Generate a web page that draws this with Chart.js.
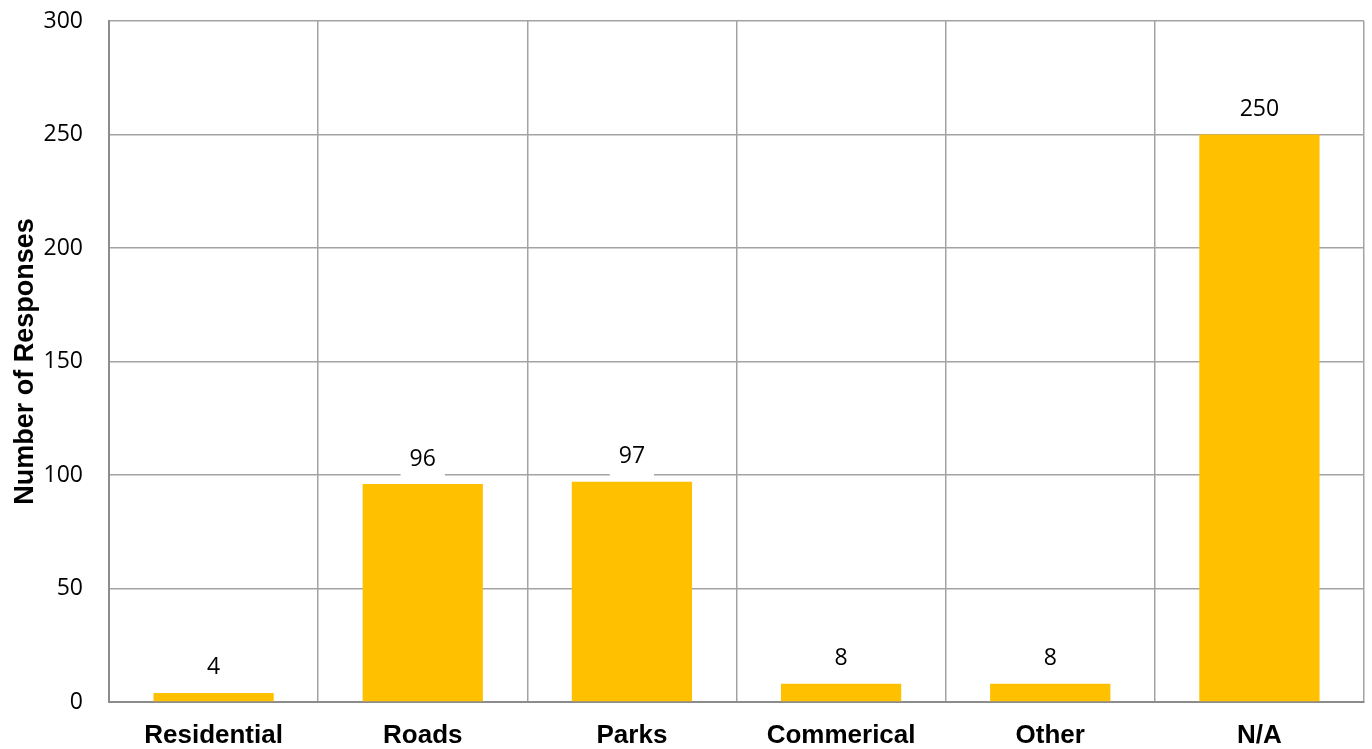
<!DOCTYPE html>
<html>
<head>
<meta charset="utf-8">
<script src="https://cdn.jsdelivr.net/npm/chart.js@4.4.1/dist/chart.umd.min.js"></script>
<style>
  html, body { margin: 0; padding: 0; background: #ffffff; }
  #wrap { width: 1372px; height: 749px; position: relative; }
</style>
</head>
<body>
<div id="wrap"><canvas id="c" width="1372" height="749"></canvas></div>
<script>
// Survey responses by land-use category
const categories = ['Residential', 'Roads', 'Parks', 'Commerical', 'Other', 'N/A'];
const responses = [4, 96, 97, 8, 8, 250];
const yTicks = [0, 50, 100, 150, 200, 250, 300];

const BAR_COLOR = '#FFC000';
const GRID_COLOR = '#a3a3a3';
const AXIS_COLOR = '#8c8c8c';
const LABEL_FONT = '23px "Open Sans", "Liberation Sans", sans-serif';

// Value labels above bars, each on a small white box
const valueLabels = {
  id: 'valueLabels',
  afterDatasetsDraw(chart) {
    const ctx = chart.ctx;
    const meta = chart.getDatasetMeta(0);
    ctx.save();
    ctx.font = LABEL_FONT;
    ctx.textAlign = 'center';
    ctx.textBaseline = 'middle';
    meta.data.forEach((bar, i) => {
      const text = String(chart.data.datasets[0].data[i]);
      const cx = bar.x;
      const cy = bar.y - 26;
      const w = ctx.measureText(text).width + 18;
      ctx.fillStyle = '#ffffff';
      ctx.fillRect(cx - w / 2, cy - 15, w, 37);
      ctx.fillStyle = '#000000';
      ctx.fillText(text, cx, cy + 1);
    });
    ctx.restore();
  }
};

new Chart(document.getElementById('c'), {
  type: 'bar',
  data: {
    labels: categories,
    datasets: [{
      data: responses,
      backgroundColor: BAR_COLOR,
      borderWidth: 0,
      barPercentage: 0.575,
      categoryPercentage: 1.0
    }]
  },
  options: {
    responsive: false,
    animation: false,
    devicePixelRatio: 1,
    layout: { padding: { top: 21, right: 8, bottom: 0, left: 0 } },
    plugins: {
      legend: { display: false },
      tooltip: { enabled: false }
    },
    scales: {
      x: {
        offset: true,
        grid: { display: true, offset: true, color: GRID_COLOR, lineWidth: 1.5, drawTicks: false },
        border: { display: true, color: AXIS_COLOR, width: 2 },
        ticks: {
          color: '#000000',
          padding: 18,
          maxRotation: 0,
          autoSkip: false,
          font: { family: '"Liberation Sans", Arial, sans-serif', size: 26, weight: 'bold' }
        },
        afterFit(scale) {
          scale.height = 47;
          scale.paddingLeft = 0;
          scale.paddingRight = 0;
        }
      },
      y: {
        min: 0,
        max: 300,
        afterBuildTicks(scale) { scale.ticks = yTicks.map(v => ({ value: v })); },
        grid: { color: GRID_COLOR, lineWidth: 1.5, drawTicks: false },
        border: { display: true, color: AXIS_COLOR, width: 2 },
        ticks: {
          color: '#000000',
          padding: 26,
          font: { family: '"Open Sans", "Liberation Sans", sans-serif', size: 23 }
        },
        title: {
          display: true,
          text: 'Number of Responses',
          color: '#000000',
          padding: { top: 9, bottom: 0 },
          font: { family: '"Liberation Sans", Arial, sans-serif', size: 27, weight: 'bold' }
        },
        afterFit(scale) {
          scale.width = 109;
          scale.paddingTop = 0;
          scale.paddingBottom = 0;
        }
      }
    }
  },
  plugins: [valueLabels]
});
</script>
</body>
</html>
